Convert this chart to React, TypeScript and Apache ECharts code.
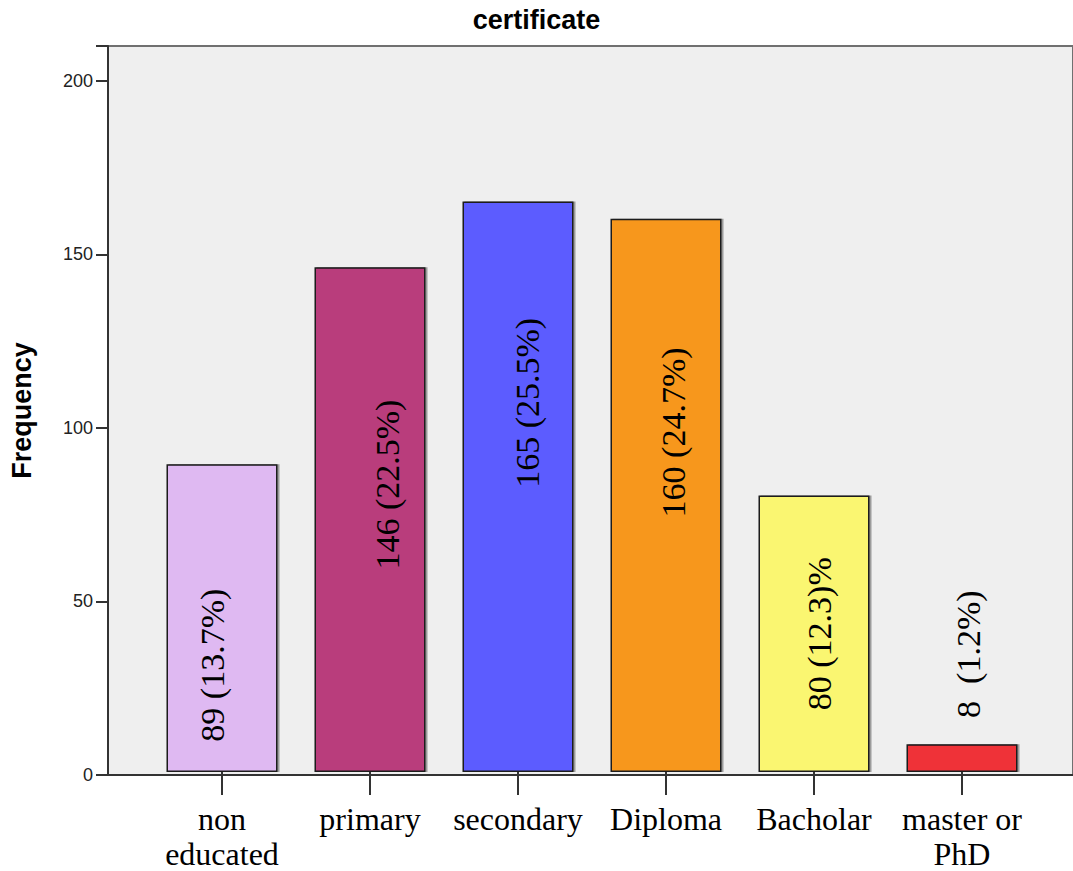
import React, { useEffect, useRef } from "react";
import * as echarts from "echarts";

const categories = ["non\neducated", "primary", "secondary", "Diploma", "Bacholar", "master or\nPhD"];
const frequencies = [89, 146, 165, 160, 80, 8];
const valueLabels = ["89 (13.7%)", "146 (22.5%)", "165 (25.5%)", "160 (24.7%)", "80 (12.3)%", "8  (1.2%)"];
const yTicks = [0, 50, 100, 150, 200];
const barColors = ["#dfb9f2", "#b93e7b", "#5b5cff", "#f7971f", "#faf671", "#ef3038"];
// label nudges (styling only), screen pixels [dx, dy] relative to bar centre
const labelNudges = [[-10, 47], [17, -35], [9, -84], [7, -63], [5, 0], [6, -104]];

export default function App() {
  const ref = useRef<HTMLDivElement>(null);
  useEffect(() => {
    if (!ref.current) return;
    const chart = echarts.init(ref.current, null, { renderer: "svg" });
    const yMax = 210;
    chart.setOption({
      animation: false,
      backgroundColor: "#ffffff",
      title: {
        text: "certificate",
        left: "center",
        top: 6,
        padding: 0,
        textStyle: { fontFamily: "Liberation Sans", fontWeight: "bold", fontSize: 27, color: "#000" },
      },
      grid: [
        {
          left: 98, top: 46, right: -20, bottom: 96,
          show: true, backgroundColor: "#efefef", borderColor: "#707070", borderWidth: 2,
        },
        { left: 148, top: 46, right: 37, bottom: 96, show: false },
      ],
      xAxis: [
        {
          gridIndex: 0, type: "value", min: 0, max: 1,
          axisLine: { show: true, onZero: false, lineStyle: { color: "#333", width: 2 } },
          axisTick: { show: false }, axisLabel: { show: false }, splitLine: { show: false },
        },
        {
          gridIndex: 1, type: "category", data: categories,
          axisLine: { show: false },
          axisTick: { show: true, alignWithLabel: true, length: 23, lineStyle: { color: "#333", width: 2 } },
          axisLabel: {
            margin: 29, fontFamily: "Liberation Serif", fontSize: 32, lineHeight: 35, color: "#000", interval: 0,
          },
        },
      ],
      yAxis: [
        {
          gridIndex: 0, type: "value", min: yTicks[0], max: yMax, interval: 50,
          name: "Frequency", nameLocation: "middle", nameGap: 73,
          nameTextStyle: { fontFamily: "Liberation Sans", fontWeight: "bold", fontSize: 27, color: "#000" },
          axisLine: { show: true, lineStyle: { color: "#333", width: 2 } },
          axisTick: { show: true, length: 12, lineStyle: { color: "#333", width: 2 } },
          axisLabel: {
            margin: 15, fontFamily: "Liberation Sans", fontSize: 18, color: "#222",
            formatter: (v: number) => (yTicks.includes(v) ? String(v) : ""),
          },
          splitLine: { show: false },
        },
        { gridIndex: 1, type: "value", min: 0, max: yMax, show: false },
      ],
      series: [
        {
          type: "bar",
          xAxisIndex: 1,
          yAxisIndex: 1,
          barWidth: 111,
          data: frequencies.map((v, i) => ({
            value: v,
            itemStyle: { color: barColors[i] },
            // label is rotated 90°, so its offset is expressed in the rotated frame
            label: { offset: [-labelNudges[i][1], labelNudges[i][0]] },
          })),
          itemStyle: {
            borderColor: "#1a1a1a", borderWidth: 1.5,
            shadowColor: "rgba(0,0,0,0.35)", shadowOffsetX: 2, shadowOffsetY: 0, shadowBlur: 1,
          },
          label: {
            show: true, position: "inside", rotate: 90,
            fontFamily: "Liberation Serif", fontSize: 34, color: "#000",
            formatter: (p: any) => valueLabels[p.dataIndex],
          },
        },
      ],
    });
    return () => chart.dispose();
  }, []);
  return <div ref={ref} style={{ position: "absolute", left: 0, top: 0, width: 1073, height: 871 }} />;
}
